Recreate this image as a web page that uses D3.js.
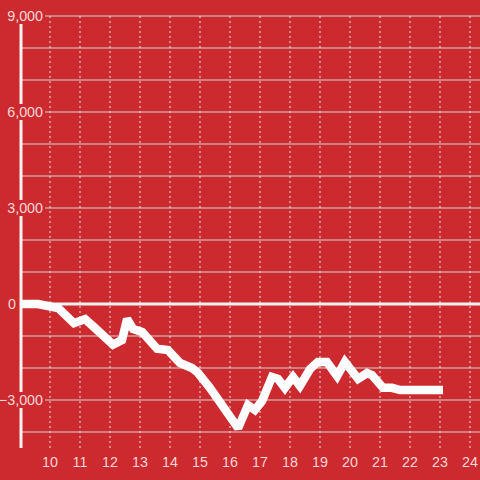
<!DOCTYPE html>
<html><head><meta charset="utf-8">
<script src="https://cdn.jsdelivr.net/npm/d3@7"></script>
<style>html,body{margin:0;padding:0;background:#cc2a2f;}svg{display:block;}</style>
</head><body>
<svg id="c" width="480" height="480"></svg>
<script>
const times = [9, 9.6, 10.27, 10.8, 11.17, 11.5, 12.1, 12.4, 12.57, 12.77, 13.07, 13.57, 13.93, 14.33, 14.73, 14.93, 15.33, 16.27, 16.6, 16.83, 17.07, 17.4, 17.6, 17.83, 18.1, 18.33, 18.67, 18.93, 19.23, 19.57, 19.83, 20.27, 20.57, 20.73, 21.1, 21.4, 21.67, 23.1];
const values = [0, 0, -125, -600, -470, -750, -1270, -1125, -470, -780, -875, -1400, -1440, -1840, -2000, -2150, -2620, -3880, -3160, -3310, -3030, -2280, -2340, -2620, -2280, -2560, -2030, -1810, -1810, -2250, -1810, -2340, -2160, -2220, -2620, -2620, -2690, -2690];
const xTicks = [10, 11, 12, 13, 14, 15, 16, 17, 18, 19, 20, 21, 22, 23, 24];
const yLabelTicks = [9000, 6000, 3000, 0, -3000];
const yGridTicks = d3.range(-4000, 9001, 1000);

const svg = d3.select("#c");
const bg = "#cc2a2f";
const x = d3.scaleLinear().domain([9, 24.333]).range([20, 480]);
const y = d3.scaleLinear().domain([-4500, 9000]).range([448, 16]);
const FONT = "'Liberation Sans', Arial, sans-serif";

// horizontal grid
svg.append("g").selectAll("line").data(yGridTicks.filter(d => d !== 0)).join("line")
  .attr("x1", 21).attr("x2", 480).attr("y1", d => y(d)).attr("y2", d => y(d))
  .attr("stroke", "#d4d4d4").attr("stroke-width", 1.2);
// vertical dashed grid
svg.append("g").selectAll("line").data(xTicks).join("line")
  .attr("x1", d => x(d)).attr("x2", d => x(d)).attr("y1", y(9000)).attr("y2", y(-4500))
  .attr("stroke", "#e6e6e6").attr("stroke-width", 1).attr("stroke-dasharray", "2,3");
// y axis line
svg.append("line").attr("x1", 21).attr("x2", 21).attr("y1", y(9000)).attr("y2", y(-4500))
  .attr("stroke", "#f2f2f2").attr("stroke-width", 3);
// zero line
svg.append("line").attr("x1", 20).attr("x2", 480).attr("y1", y(0)).attr("y2", y(0))
  .attr("stroke", "#f2f2f2").attr("stroke-width", 3);

// line
const line = d3.line().x((d, i) => x(times[i])).y(d => y(d));
svg.append("path").datum(values).attr("d", line)
  .attr("fill", "none").attr("stroke", "#ffffff").attr("stroke-width", 8.5)
  .attr("stroke-linejoin", "miter").attr("stroke-miterlimit", 2);

// y labels with background
const fmt = d3.format(",");
const yl = svg.append("g").selectAll("g").data(yLabelTicks).join("g")
  .attr("transform", d => d === 0 ? `translate(16,${y(d)})` : `translate(43,${y(d)})`);
yl.each(function(d){
  const g = d3.select(this);
  const t = g.append("text").text(fmt(d)).attr("text-anchor", "end").attr("dy", "0.35em")
    .attr("font-family", FONT).attr("font-size", 14.3).attr("fill", "#f6d6d7");
  if (d !== 0) {
    const bb = t.node().getBBox();
    g.insert("rect", "text").attr("x", bb.x - 2).attr("y", bb.y).attr("width", bb.width + 4).attr("height", bb.height)
      .attr("fill", bg);
  }
});

// x labels
svg.append("g").selectAll("text").data(xTicks).join("text")
  .attr("x", d => x(d)).attr("y", 467).attr("text-anchor", "middle")
  .attr("font-family", FONT).attr("font-size", 14.3).attr("fill", "#f6d6d7")
  .text(d => d);
</script>
</body></html>
